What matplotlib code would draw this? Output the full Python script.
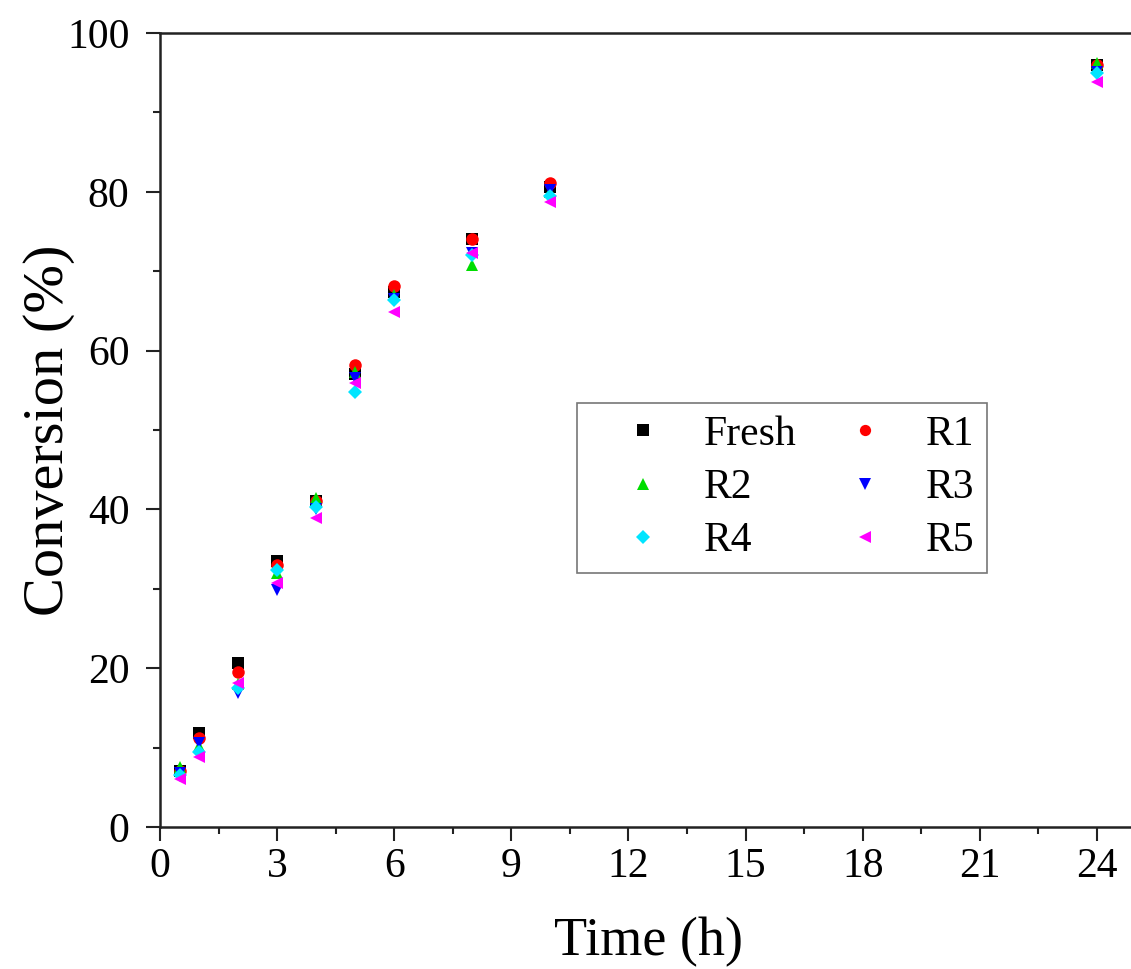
import matplotlib
matplotlib.use("Agg")
import matplotlib.pyplot as plt
from matplotlib.ticker import MultipleLocator

plt.rcParams['font.family'] = ['Liberation Serif', 'DejaVu Serif']

time_h = [0.5, 1, 2, 3, 4, 5, 6, 8, 10, 24]
fresh = [7.0, 11.8, 20.6, 33.5, 41.0, 57.0, 67.4, 74.0, 80.6, 96.0]
r1 = [7.0, 11.2, 19.5, 33.0, 41.0, 58.2, 68.1, 74.0, 81.1, 96.0]
r2 = [7.6, 10.2, 18.0, 32.0, 41.4, 57.3, 67.0, 70.8, 80.0, 96.2]
r3 = [6.8, 10.6, 16.9, 29.8, 40.0, 56.5, 66.5, 72.3, 80.2, 95.1]
r4 = [6.6, 9.5, 17.5, 32.4, 40.3, 54.8, 66.4, 72.0, 79.5, 95.0]
r5 = [6.1, 8.8, 18.1, 30.7, 38.9, 55.9, 64.9, 72.3, 78.7, 93.8]

series = [
    ("Fresh", fresh, "s", "#000000"),
    ("R1", r1, "o", "#ff0000"),
    ("R2", r2, "^", "#00dd00"),
    ("R3", r3, "v", "#0000ff"),
    ("R4", r4, "D", "#00e5ff"),
    ("R5", r5, "<", "#ff00ff"),
]

fig = plt.figure(figsize=(11.31, 9.69), dpi=100)
ax = fig.add_axes([160/1131, 142/969, 976/1131, 794/969])

handles = {}
for name, vals, mk, col in series:
    ms = 7.5 if mk == "D" else 9
    h, = ax.plot(time_h, vals, linestyle="none", marker=mk, color=col,
                 markersize=ms, markeredgewidth=0, label=name)
    handles[name] = h

ax.set_xlim(0, 25)
ax.set_ylim(0, 100)
ax.xaxis.set_major_locator(MultipleLocator(3))
ax.xaxis.set_minor_locator(MultipleLocator(1.5))
ax.yaxis.set_major_locator(MultipleLocator(20))
ax.yaxis.set_minor_locator(MultipleLocator(10))
ax.tick_params(which="major", direction="out", length=10, width=1.5,
               labelsize=30, color="#222222")
ax.tick_params(axis="x", which="major", pad=5)
ax.tick_params(axis="y", which="major", pad=12)
ax.tick_params(which="minor", direction="out", length=5, width=1.5,
               color="#222222")
for s in ax.spines.values():
    s.set_linewidth(1.8)
    s.set_color("#222222")

ax.set_xlabel("Time (h)", fontsize=39, labelpad=22)
ax.set_ylabel("Conversion (%)", fontsize=42, labelpad=-6)

order = ["Fresh", "R2", "R4", "R1", "R3", "R5"]
leg = ax.legend([handles[n] for n in order], order, ncol=2,
                loc="upper left", bbox_to_anchor=(0.427, 0.534),
                borderaxespad=0, fontsize=30, frameon=True, fancybox=False,
                edgecolor="#555555", borderpad=0.3, handletextpad=0.15,
                columnspacing=0.35, labelspacing=0.35, markerscale=0.9,
                handlelength=2.6)
leg.get_frame().set_linewidth(1.2)

fig.savefig("out.png", dpi=100)
